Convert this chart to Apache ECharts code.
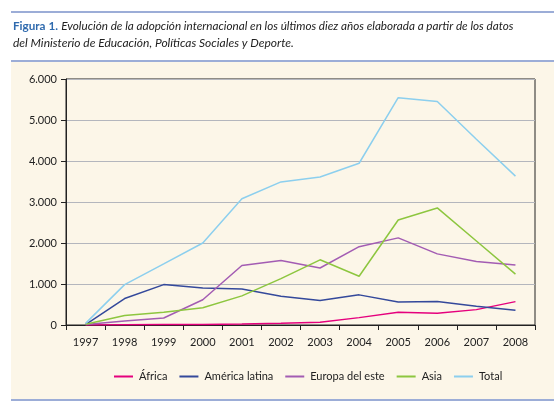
<!DOCTYPE html>
<html><head><meta charset="utf-8">
<script src="https://cdn.jsdelivr.net/npm/echarts@6/dist/echarts.min.js"></script>
<style>html,body{margin:0;padding:0;background:#fff}#c{width:560px;height:409px}</style>
</head><body><div id="c"></div>
<script>
const years = ['1997','1998','1999','2000','2001','2002','2003','2004','2005','2006','2007','2008'];
const africa = [0, 5, 10, 15, 25, 40, 65, 180, 310, 285, 375, 570];
const americaLatina = [10, 645, 985, 900, 880, 700, 600, 735, 560, 575, 460, 360];
const europaEste = [10, 95, 170, 615, 1450, 1575, 1390, 1910, 2125, 1735, 1550, 1465];
const asia = [20, 230, 310, 420, 710, 1130, 1590, 1190, 2560, 2855, 2050, 1240];
const total = [40, 985, 1490, 2000, 3080, 3490, 3610, 3945, 5545, 5450, 4530, 3630];
const seriesNames = ['África','América latina','Europa del este','Asia','Total'];
const seriesData = [africa, americaLatina, europaEste, asia, total];
const colors = ['#e5007d','#34499b','#a35cb3','#8dc63f','#8ccfee'];

const font = 'Lato, "Open Sans", sans-serif';
const chart = echarts.init(document.getElementById('c'));
chart.setOption({
  animation: false,
  backgroundColor: '#ffffff',
  graphic: [
    {type:'rect', shape:{x:11,y:62,width:543,height:337}, style:{fill:'#fcf6e8'}, z:-10},
    {type:'line', shape:{x1:11,y1:12,x2:554,y2:12}, style:{stroke:'#3a5db0',lineWidth:1.2}},
    {type:'line', shape:{x1:11,y1:61,x2:554,y2:61}, style:{stroke:'#3a5db0',lineWidth:1.2}},
    {type:'line', shape:{x1:11,y1:400,x2:554,y2:400}, style:{stroke:'#3a5db0',lineWidth:1.2}},
    {type:'text', left:13, top:20, style:{
      rich:{b:{fontFamily:font,fontSize:11.7,fontWeight:'bold',fill:'#2f6aae'},
            i:{fontFamily:font,fontSize:11.7,fontStyle:'italic',fill:'#222'}},
      text:'{b|Figura 1.} {i|Evolución de la adopción internacional en los últimos diez años elaborada a partir de los datos}'}},
    {type:'text', left:13, top:37, style:{fontFamily:font,fontSize:12,fontStyle:'italic',fill:'#222',
      text:'del Ministerio de Educación, Políticas Sociales y Deporte.'}}
  ],
  grid: {left:66, right:25, top:79, bottom:84, show:true, borderColor:'#222', borderWidth:1, backgroundColor:'transparent'},
  legend: {
    top: 366, left: 109,
    icon: 'rect', itemWidth: 19, itemHeight: 2, itemGap: 12,
    textStyle: {fontFamily: font, fontSize: 11, color: '#222', padding:[0,0,0,1]},
    data: seriesNames
  },
  xAxis: {
    type:'category', data: years, boundaryGap: true,
    axisLine:{lineStyle:{color:'#222'}},
    axisTick:{show:true, length:5, lineStyle:{color:'#222'}},
    axisLabel:{fontFamily:font, fontSize:11, color:'#222', margin:12}
  },
  yAxis: {
    type:'value', min:0, max:6000, interval:1000,
    axisLine:{show:true, lineStyle:{color:'#222'}},
    axisTick:{show:true, length:5, lineStyle:{color:'#222'}},
    splitLine:{lineStyle:{color:'#b4b6bd', width:1}},
    axisLabel:{fontFamily:font, fontSize:11, color:'#222', margin:9,
      formatter: v => v === 0 ? '0' : String(v).replace(/\B(?=(\d{3})+(?!\d))/g, '.')}
  },
  series: seriesNames.map((n,i)=>({
    name:n, type:'line', data: seriesData[i], symbol:'none',
    lineStyle:{color:colors[i], width:1.5}, itemStyle:{color:colors[i]}
  }))
});
</script></body></html>
